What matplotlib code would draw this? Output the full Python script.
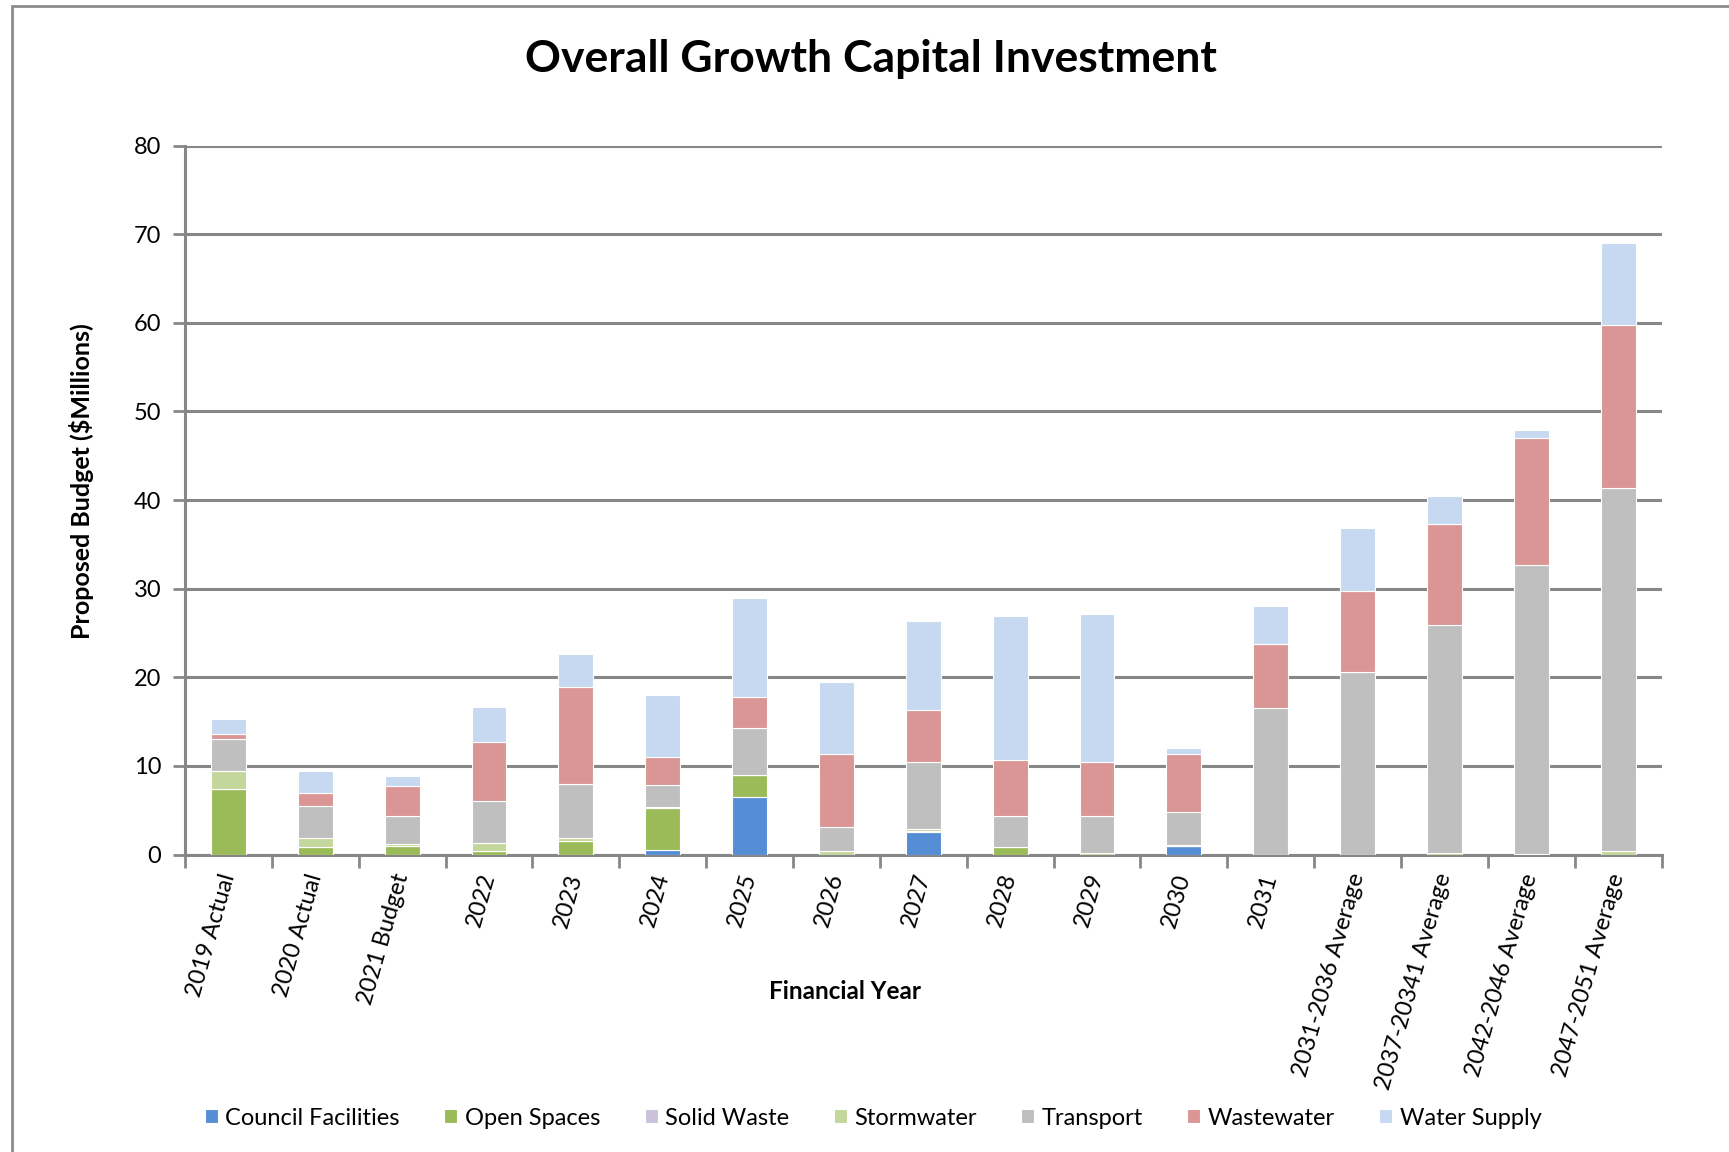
import numpy as np
import matplotlib
matplotlib.use("Agg")
import matplotlib.pyplot as plt
from matplotlib.patches import Rectangle

plt.rcParams['font.family'] = ['Lato', 'DejaVu Sans']

# Financial years on the x axis
years = ["2019 Actual", "2020 Actual", "2021 Budget", "2022", "2023", "2024", "2025",
         "2026", "2027", "2028", "2029", "2030", "2031", "2031-2036 Average",
         "2037-20341 Average", "2042-2046 Average", "2047-2051 Average"]

# Proposed budget by activity ($ millions)
council_facilities = [0, 0, 0, 0, 0, 0.55, 6.5, 0, 2.6, 0, 0, 0.95, 0, 0, 0, 0, 0]
open_spaces = [7.4, 0.8, 1.0, 0.4, 1.55, 4.7, 2.45, 0, 0.1, 0.85, 0, 0, 0, 0, 0, 0, 0]
solid_waste = [0, 0, 0, 0, 0, 0, 0, 0, 0, 0, 0, 0, 0, 0, 0, 0, 0]
stormwater = [2.0, 1.05, 0.15, 0.85, 0.3, 0.1, 0, 0.35, 0.2, 0.05, 0.2, 0.15, 0, 0, 0.15, 0.1, 0.4]
transport = [3.6, 3.6, 3.15, 4.8, 6.1, 2.5, 5.35, 2.75, 7.6, 3.4, 4.1, 3.75, 16.5, 20.6, 25.75, 32.6, 41.0]
wastewater = [0.6, 1.5, 3.4, 6.7, 11.0, 3.2, 3.5, 8.3, 5.8, 6.4, 6.2, 6.5, 7.3, 9.1, 11.4, 14.3, 18.4]
water_supply = [1.7, 2.5, 1.2, 3.9, 3.7, 7.0, 11.15, 8.1, 10.0, 16.2, 16.6, 0.7, 4.3, 7.1, 3.2, 0.9, 9.2]

series = [
    ("Council Facilities", council_facilities, "#558ED5"),
    ("Open Spaces", open_spaces, "#9BBB59"),
    ("Solid Waste", solid_waste, "#CCC1DA"),
    ("Stormwater", stormwater, "#C3D69B"),
    ("Transport", transport, "#BFBFBF"),
    ("Wastewater", wastewater, "#D99694"),
    ("Water Supply", water_supply, "#C6D9F1"),
]

fig = plt.figure(figsize=(17.29, 11.52), dpi=100)
ax = fig.add_axes([0.107, 0.2582, 0.854, 0.6154])

x = np.arange(len(years))
bottom = np.zeros(len(years))
handles = []
for name, vals, col in series:
    vals = np.array(vals, dtype=float)
    b = ax.bar(x, vals, width=0.4, bottom=bottom, color=col, edgecolor="white",
               linewidth=0.8, label=name, zorder=3)
    handles.append(b)
    bottom += vals

grey = "#878787"
ax.set_ylim(0, 80)
ax.set_xlim(-0.5, len(years) - 0.5)
ax.set_yticks(range(0, 81, 10))
ax.yaxis.grid(True, color=grey, linewidth=2.2, zorder=0)
ax.set_axisbelow(True)
for s in ["top", "right"]:
    ax.spines[s].set_visible(False)
for s in ["left", "bottom"]:
    ax.spines[s].set_color(grey)
    ax.spines[s].set_linewidth(2.2)

ax.tick_params(axis="y", length=9, width=2, color=grey, labelsize=17, pad=8)
ax.set_xticks(x)
ax.set_xticklabels(years, rotation=74, ha="right", va="center",
                   rotation_mode="anchor", fontsize=17)
ax.tick_params(axis="x", which="major", length=0, pad=14)
ax.set_xticks(np.arange(-0.5, len(years), 1), minor=True)
ax.tick_params(axis="x", which="minor", length=9, width=2, color=grey)

fig.text(0.504, 0.949, "Overall Growth Capital Investment", ha="center", va="center",
         fontsize=32, fontweight="bold")
fig.text(0.047, 0.582, "Proposed Budget ($Millions)", ha="center", va="center",
         rotation=90, fontsize=18, fontweight="bold")
fig.text(0.489, 0.139, "Financial Year", ha="center", va="center",
         fontsize=17.5, fontweight="bold")

fig.legend(handles=handles, loc="center", bbox_to_anchor=(0.505, 0.0295), ncol=7,
           frameon=False, fontsize=17, handlelength=0.55, handleheight=0.55,
           handletextpad=0.3, columnspacing=1.9)

# chart-area frame (cut off at right and bottom in the original)
fig.patches.append(Rectangle((12 / 1729, -0.05), 1.2, 1.05 - 6 / 1152,
                             transform=fig.transFigure, fill=False,
                             edgecolor="#8c8c8c", linewidth=2))

fig.savefig("out.png", dpi=100, facecolor="white")
